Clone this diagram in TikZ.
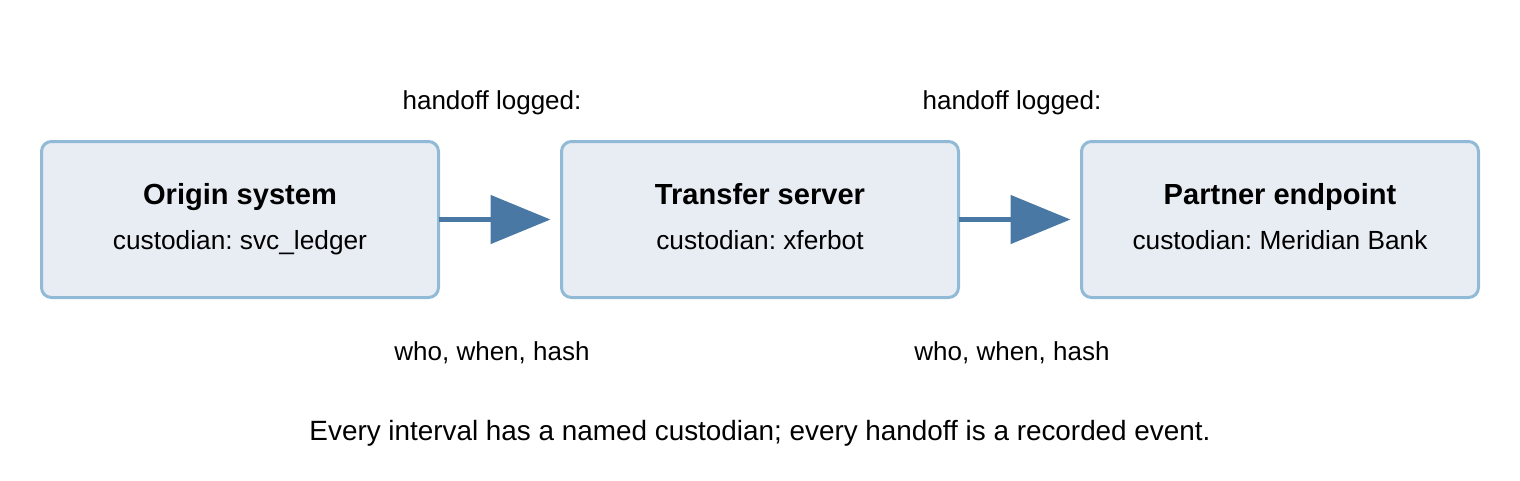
\documentclass[tikz,border=0pt]{standalone}
\usepackage{fontspec}
\setmainfont{Liberation Sans}
\frenchspacing
\usetikzlibrary{arrows.meta}
\definecolor{boxborder}{RGB}{145,186,214}
\definecolor{boxfill}{RGB}{232,237,244}
\definecolor{arrowblue}{RGB}{74,120,165}
\tikzset{
  stagebox/.style={draw=boxborder, fill=boxfill, line width=2.25pt, rounded corners=7.5pt,
    minimum width=297.75pt, minimum height=117pt, inner sep=0pt, outer sep=0pt},
  titletext/.style={anchor=base, inner sep=0pt, font=\fontsize{21.8}{26}\selectfont\bfseries},
  subtext/.style={anchor=base, inner sep=0pt, font=\fontsize{19.7}{23}\selectfont},
  labeltext/.style={anchor=base, inner sep=0pt, font=\fontsize{19.5}{23}\selectfont},
  captiontext/.style={anchor=base, inner sep=0pt, font=\fontsize{20.9}{25}\selectfont},
  flowarrow/.style={draw=arrowblue, line width=3.75pt,
    -{Triangle[length=45pt,width=36pt]}, shorten >=8.25pt}
}
\begin{document}
\begin{tikzpicture}[x=0.75pt,y=-0.75pt]
\useasboundingbox (0,0) rectangle (1520,480);
% boxes
\node[stagebox] (origin) at (240,219.5) {};
\node[stagebox] (server) at (760,219.5) {};
\node[stagebox] (partner) at (1280,219.5) {};
% titles
\node[titletext] (t1) at (240,204) {Origin system};
\node[subtext] (s1) at (240,249) {custodian: svc\_ledger};
\node[titletext] (t2) at (760,204) {Transfer server};
\node[subtext] (s2) at (760,249) {custodian: xferbot};
\node[titletext] (t3) at (1280,204) {Partner endpoint};
\node[subtext] (s3) at (1280,249) {custodian: Meridian Bank};
% arrows
\draw[flowarrow] (origin.east) -- (server.west);
\draw[flowarrow] (server.east) -- (partner.west);
% labels
\node[labeltext] (l1a) at (492,109) {handoff logged:};
\node[labeltext] (l1b) at (492,360) {who, when, hash};
\node[labeltext] (l2a) at (1012,109) {handoff logged:};
\node[labeltext] (l2b) at (1012,360) {who, when, hash};
% caption
\node[captiontext] (cap) at (760,440) {Every interval has a named custodian; every handoff is a recorded event.};
\end{tikzpicture}
\end{document}
